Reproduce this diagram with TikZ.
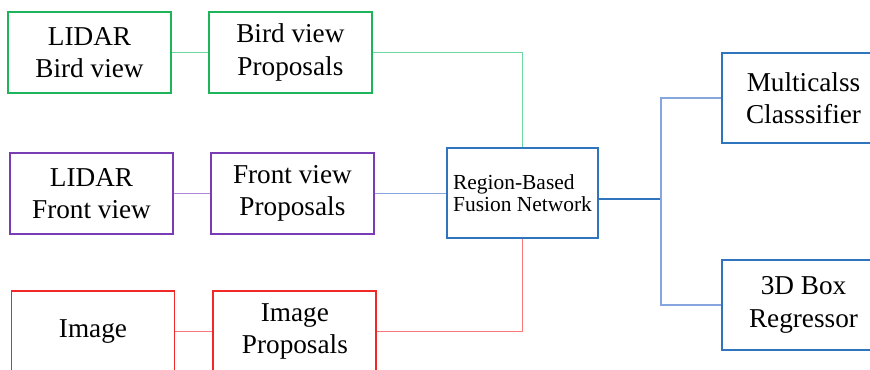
\documentclass[tikz,border=0pt]{standalone}
\usepackage{fontspec}
\setmainfont{Liberation Serif}
\newfontfamily\boxfont{Liberation Serif}
\usetikzlibrary{positioning}

\definecolor{bevgreen}{RGB}{30,180,90}
\definecolor{bevlight}{RGB}{110,215,160}
\definecolor{fvpurple}{RGB}{120,60,180}
\definecolor{fvlight}{RGB}{175,135,215}
\definecolor{imgred}{RGB}{240,40,40}
\definecolor{imglight}{RGB}{250,120,120}
\definecolor{netblue}{RGB}{46,117,190}
\definecolor{netlight}{RGB}{135,165,222}

\tikzset{
  box/.style={draw,line width=1.1pt,fill=white,align=center,inner sep=2pt,
    minimum width=3.26cm,minimum height=1.62cm,
    font=\boxfont\fontsize{15.5}{18.5}\selectfont},
  link/.style={line width=0.7pt}
}

\begin{document}
\begin{tikzpicture}[x=0.02cm,y=0.02cm]
  \useasboundingbox (0,0) rectangle (870,369);
  \clip (0,0) rectangle (870,369);
  % inputs and proposals
  \node[box,draw=bevgreen] (lidarbev) at (89.5,316.5) {LIDAR\\Bird view};
  \node[box,draw=bevgreen,right=0.72cm of lidarbev] (bevprop) {Bird view\\Proposals};
  \node[box,draw=fvpurple] (lidarfv) at (91.5,175.5) {LIDAR\\Front view};
  \node[box,draw=fvpurple,right=0.72cm of lidarfv] (fvprop) {Front view\\Proposals};
  \node[box,draw=imgred] (image) at (93,37.5) {Image};
  \node[box,draw=imgred,right=0.74cm of image] (imgprop) {Image\\Proposals};
  % fusion and heads
  \node[box,draw=netblue,minimum width=3.02cm,minimum height=1.8cm,align=left,
    font=\boxfont\fontsize{12.2}{12.6}\selectfont,text depth=-6pt] (fusion) at (522.5,176)
    {Region-Based\\Fusion Network};
  \node[box,draw=netblue,minimum height=1.8cm] (cls) at (803.5,271) {Multicalss\\Classsifier};
  \node[box,draw=netblue,minimum height=1.8cm] (reg) at (803.5,64) {3D Box\\Regressor};
  \coordinate (split) at (661,170);

  \draw[link,bevlight] (lidarbev) -- (bevprop);
  \draw[link,bevlight] (bevprop.east) -| (fusion.north);
  \draw[link,fvlight] (lidarfv) -- (fvprop);
  \draw[link,netlight] (fvprop) -- (fusion.west |- fvprop);
  \draw[link,imglight] (image) -- (imgprop);
  \draw[link,imglight] (imgprop.east) -| (fusion.south);
  \draw[link,netblue] (fusion.east |- split) -- (split);
  \draw[link,netlight] (cls.west) -| (split) |- (reg.west);
\end{tikzpicture}
\end{document}
